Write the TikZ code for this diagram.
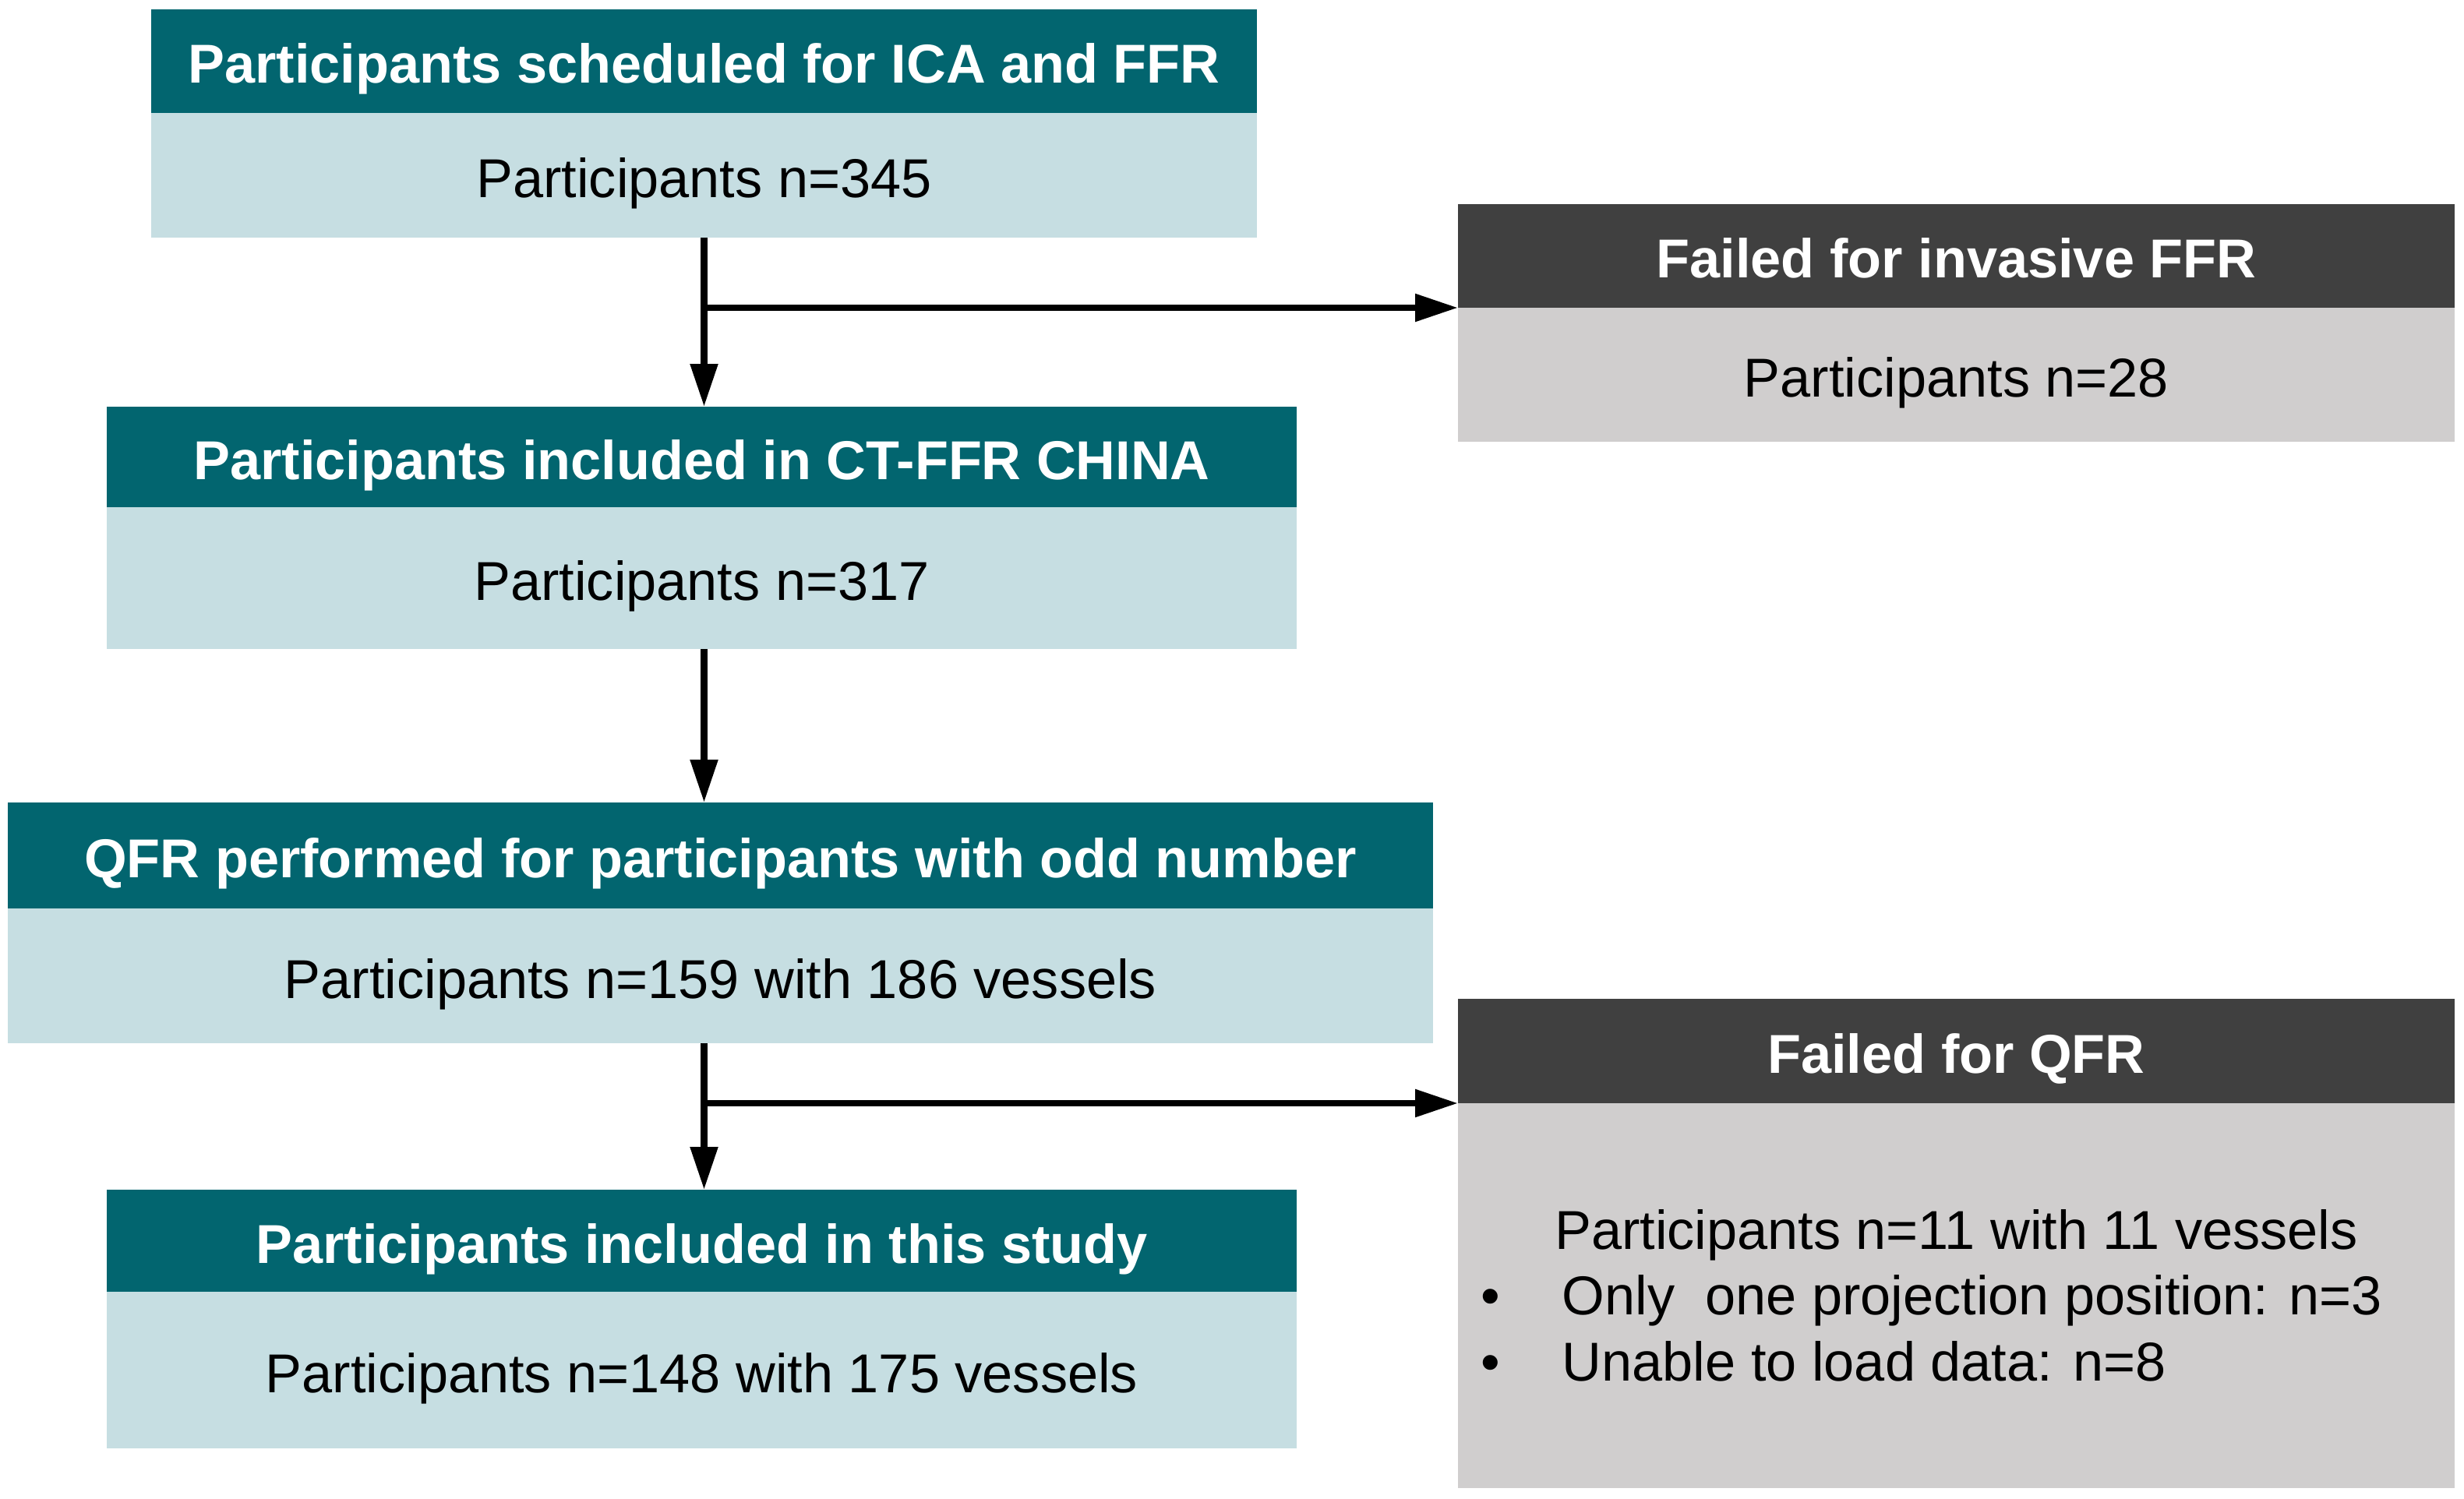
\documentclass[tikz,border=0pt]{standalone}
\usepackage{fontspec}
\setmainfont{Liberation Sans}
\usepackage{xcolor}
\usetikzlibrary{positioning,arrows.meta}

\definecolor{headteal}{HTML}{02656F}
\definecolor{bodyteal}{HTML}{C6DEE2}
\definecolor{headgrey}{HTML}{404040}
\definecolor{bodygrey}{HTML}{D0CECE}

\tikzset{
	headbox/.style={anchor=north west, inner sep=0pt, outer sep=0pt, text height=0.72cm, text depth=0.15cm, text=white, font=\fontsize{20}{24}\selectfont\bfseries},
	tealhead/.style={headbox, fill=headteal},
	greyhead/.style={headbox, fill=headgrey},
	bodybox/.style={inner sep=0pt, outer sep=0pt, text=black, font=\fontsize{20}{24}\selectfont},
	tealbody/.style={bodybox, text height=0.72cm, text depth=0.15cm, fill=bodyteal},
	greybody/.style={bodybox, text height=0.72cm, text depth=0.15cm, fill=bodygrey},
	flowarrow/.style={line width=2.4pt, -{Triangle[length=0.55cm, width=0.34cm]}}
}

\begin{document}
\begin{tikzpicture}
	\useasboundingbox (0,0) rectangle (31.62,-19.23);

	% left column
	\node[tealhead, minimum width=14.19cm, minimum height=1.33cm] (schedHead) at (1.94,-0.12) {Participants scheduled for ICA and FFR};
	\node[tealbody, minimum width=14.19cm, minimum height=1.60cm, below=0pt of schedHead] (schedBody) {Participants n=345};

	\node[tealhead, minimum width=15.27cm, minimum height=1.29cm] (inclHead) at (1.37,-5.22) {Participants included in CT-FFR CHINA};
	\node[tealbody, minimum width=15.27cm, minimum height=1.82cm, below=0pt of inclHead] (inclBody) {Participants n=317};

	\node[tealhead, minimum width=18.29cm, minimum height=1.36cm] (qfrHead) at (0.10,-10.30) {QFR performed for participants with odd number};
	\node[tealbody, minimum width=18.29cm, minimum height=1.73cm, below=0pt of qfrHead] (qfrBody) {Participants n=159 with 186 vessels};

	\node[tealhead, minimum width=15.27cm, minimum height=1.31cm] (studyHead) at (1.37,-15.27) {Participants included in this study};
	\node[tealbody, minimum width=15.27cm, minimum height=2.01cm, below=0pt of studyHead] (studyBody) {Participants n=148 with 175 vessels};

	% right column
	\node[greyhead, minimum width=12.79cm, minimum height=1.33cm] (ffrHead) at (18.71,-2.62) {Failed for invasive FFR};
	\node[greybody, minimum width=12.79cm, minimum height=1.72cm, below=0pt of ffrHead] (ffrBody) {Participants n=28};

	\node[greyhead, minimum width=12.79cm, minimum height=1.34cm] (failHead) at (18.71,-12.82) {Failed for QFR};
	\node[greybody, minimum width=12.79cm, minimum height=4.94cm, below=0pt of failHead] (failBody) {};
	\node[bodybox, xshift=-0.32cm, yshift=-0.08cm] (failText) at (failBody.center) {%
		\begin{tabular}{@{}l@{\hspace{0.80cm}}l@{}}
			\multicolumn{2}{c}{\hspace{0.64cm}Participants n=11 with 11 vessels}\\
			\textbullet & Only\ \ one projection position: n=3\\
			\textbullet & Unable to load data: n=8
		\end{tabular}};

	% connectors
	\draw[flowarrow] (schedBody.south) -- (schedBody.south |- inclHead.north);
	\coordinate (forkFFR) at (schedBody.south |- ffrHead.south west);
	\draw[flowarrow] (forkFFR) -- (ffrHead.south west);
	\draw[flowarrow] (inclBody.south -| schedBody.south) -- (qfrHead.north -| schedBody.south);
	\draw[flowarrow] (qfrBody.south -| schedBody.south) -- (studyHead.north -| schedBody.south);
	\coordinate (forkQFR) at (schedBody.south |- failHead.south west);
	\draw[flowarrow] (forkQFR) -- (failHead.south west);
\end{tikzpicture}
\end{document}
